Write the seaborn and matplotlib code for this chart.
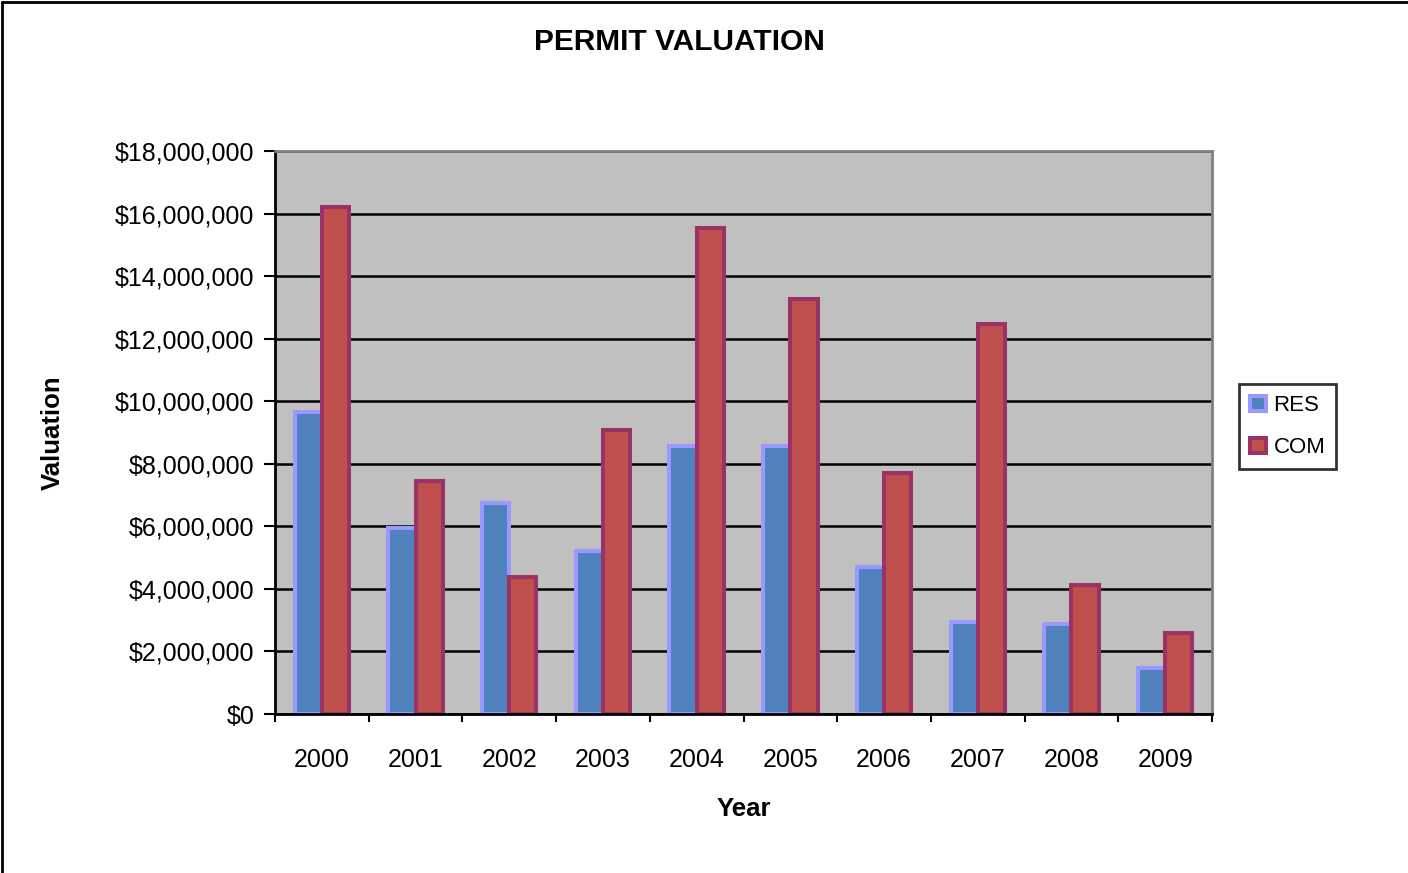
#---------------------------------------------------------------------#
# plot.py - permit valuation by year, RES vs COM
#---------------------------------------------------------------------#
import matplotlib
matplotlib.use("Agg")
import matplotlib.pyplot as plt
import matplotlib.ticker as mticker
from matplotlib.lines import Line2D
import seaborn as sns
import pandas as pd

years = ["2000", "2001", "2002", "2003", "2004", "2005", "2006", "2007", "2008", "2009"]
res_values = [9650000, 5950000, 6750000, 5200000, 8570000, 8570000, 4710000, 2950000, 2880000, 1480000]
com_values = [16200000, 7450000, 4380000, 9080000, 15540000, 13280000, 7710000, 12470000, 4120000, 2590000]
series = ["RES", "COM"]

df = pd.DataFrame({
    "Year": years * 2,
    "Valuation": res_values + com_values,
    "Type": ["RES"] * len(years) + ["COM"] * len(years),
})

sns.set_style("white")
plt.rcParams["font.family"] = ["Liberation Sans", "DejaVu Sans"]
plt.rcParams["text.color"] = "black"
plt.rcParams["axes.labelcolor"] = "black"
plt.rcParams["xtick.color"] = "black"
plt.rcParams["ytick.color"] = "black"

fig = plt.figure(figsize=(14.08, 8.73), dpi=100)
ax = fig.add_axes([275 / 1408, 1 - 714 / 873, (1212 - 275) / 1408, (714 - 151) / 873])

fills = ["#4F81BD", "#C0504D"]
edges = ["#9999FF", "#993366"]

sns.barplot(data=df, x="Year", y="Valuation", hue="Type", hue_order=series,
            palette=fills, width=0.58, gap=0, legend=False, ax=ax, saturation=1)

for container, ec in zip(ax.containers, edges):
    for bar in container:
        bar.set_edgecolor(ec)
        bar.set_linewidth(2.9)

ax.set_facecolor("#C0C0C0")
ax.set_ylim(0, 18000000)
ax.set_xlim(-0.5, len(years) - 0.5)
ax.yaxis.set_major_locator(mticker.MultipleLocator(2000000))
ax.yaxis.set_major_formatter(mticker.StrMethodFormatter("${x:,.0f}"))
ax.yaxis.grid(True, color="black", linewidth=1.8)
ax.set_axisbelow(True)

for side in ["left", "bottom"]:
    ax.spines[side].set_color("black")
    ax.spines[side].set_linewidth(2)
for side in ["top", "right"]:
    ax.spines[side].set_color("#808080")
    ax.spines[side].set_linewidth(2)
    ax.spines[side].set_visible(True)

ax.tick_params(axis="y", which="major", left=True, length=8, width=1.5,
               labelsize=18, pad=7)
ax.tick_params(axis="x", which="major", bottom=False, labelsize=18, pad=21)
ax.set_xticks([i - 0.5 for i in range(len(years) + 1)], minor=True)
ax.tick_params(axis="x", which="minor", bottom=True, length=6, width=1.5)

ax.set_xlabel("Year", fontsize=18.5, fontweight="bold", labelpad=18)
ax.set_ylabel("Valuation", fontsize=18.5, fontweight="bold", labelpad=36)

fig.text(679 / 1408, 1 - 42 / 873, "PERMIT VALUATION", fontsize=21.5, fontweight="bold",
         ha="center", va="center")

leg = ax.legend(ax.containers, series, loc="upper left",
                bbox_to_anchor=(1239 / 1408, 1 - 384 / 873), bbox_transform=fig.transFigure,
                borderaxespad=0, fancybox=False, frameon=True, fontsize=16,
                handlelength=0.7, handleheight=0.7, handletextpad=0.35,
                labelspacing=0.95, borderpad=0.5)
leg.get_frame().set_edgecolor("black")
leg.get_frame().set_linewidth(2)

# outer chart border (left and top visible)
fig.add_artist(Line2D([0.0015, 0.0015], [0, 0.998], transform=fig.transFigure, color="black", lw=2))
fig.add_artist(Line2D([0.0015, 1], [0.998, 0.998], transform=fig.transFigure, color="black", lw=2))

plt.savefig("out.png", dpi=100)
